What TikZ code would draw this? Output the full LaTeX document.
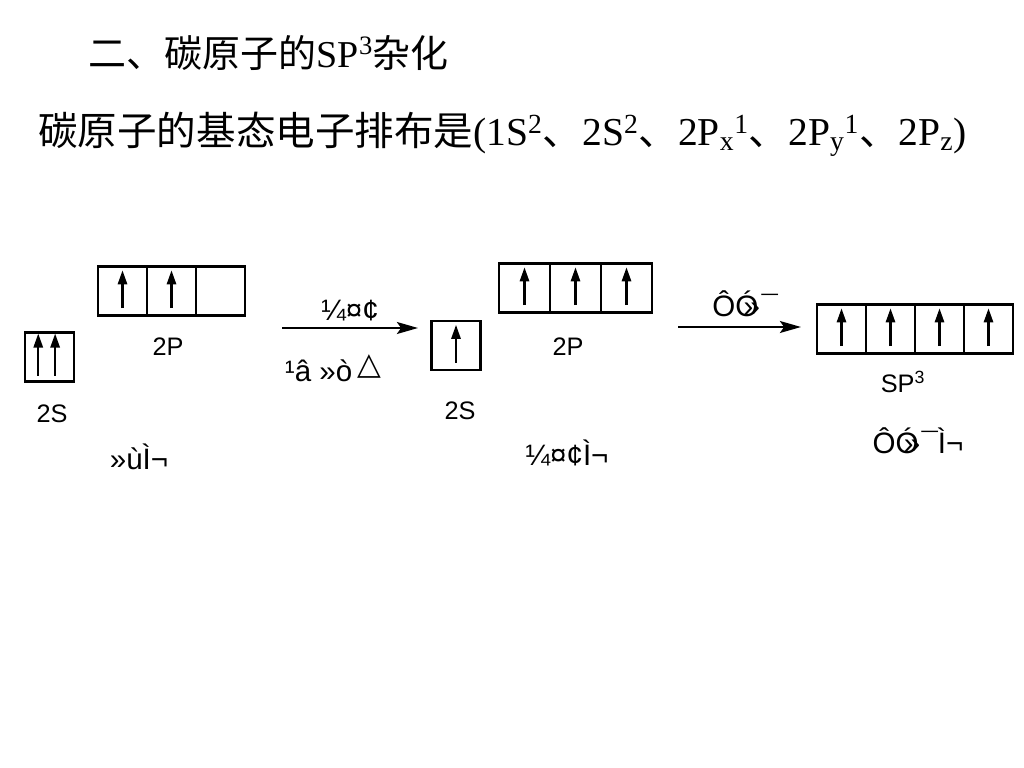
\documentclass[tikz,border=0pt]{standalone}
\usepackage{fontspec}
\setmainfont{Liberation Serif}
\setsansfont{Liberation Sans}
\newfontfamily\cjk{Noto Sans CJK SC}
\newfontfamily\symf{DejaVu Sans}
\usetikzlibrary{arrows.meta}

\tikzset{
  cell/.style={draw,line width=1.6pt,minimum width=1.225cm,minimum height=1.225cm,inner sep=0pt},
  spin/.style={line width=1.7pt,-{Triangle[length=10pt,width=6.5pt]}},
  lbl/.style={font=\sffamily\fontsize{18}{20}\selectfont},
  garb/.style={font=\sffamily\fontsize{21}{24}\selectfont},
  react/.style={line width=1.6pt,-{Stealth[length=15pt,width=8.5pt,inset=3pt]}}
}

\begin{document}
\begin{tikzpicture}[x=0.025cm,y=-0.025cm]
		\useasboundingbox (0,0) rectangle (1024,768);
		\node[anchor=west] (title) at (84,53) {\cjk\fontsize{27}{30}\selectfont 二、碳原子的{\rmfamily SP\textsuperscript{3}}杂化};
		\node[anchor=west,inner sep=0pt] (config) at (38,134) {\resizebox{23.2cm}{!}{\cjk\fontsize{30}{34}\selectfont 碳原子的基态电子排布是{\rmfamily (1S\textsuperscript{2}}、{\rmfamily 2S\textsuperscript{2}}、{\rmfamily 2P\textsubscript{x}\textsuperscript{1}}、{\rmfamily 2P\textsubscript{y}\textsuperscript{1}}、{\rmfamily 2P\textsubscript{z})}}};
		%
		% ground state
		\node[cell] (S1) at (49.5,357) {};
		\node[cell] (P11) at (122.5,291) {};
		\node[cell] (P12) at (171.5,291) {};
		\node[cell] (P13) at (220.5,291) {};
		\node[lbl] (S1l) at (52,414) {2S};
		\node[lbl] (P1l) at (168,347) {2P};
		\node[garb] (gnd) at (139,457) {»ùÌ¬};
		%
		% excited state
		\node[cell] (S2) at (456,345.5) {};
		\node[cell,minimum width=1.275cm] (P21) at (524.5,288) {};
		\node[cell,minimum width=1.275cm] (P22) at (575.5,288) {};
		\node[cell,minimum width=1.275cm] (P23) at (626.5,288) {};
		\node[lbl] (S2l) at (460,411) {2S};
		\node[lbl] (P2l) at (568,347) {2P};
		\node[garb] (exc) at (567,453) {¼¤¢Ì¬};
		%
		% hybrid state
		\foreach \i/\x in {1/841.5,2/890.5,3/939.5,4/988.5}
			\node[cell] (H\i) at (\x,329) {};
		\node[lbl] (Hl) at (903,382) {SP\textsuperscript{3}};
		\node[garb] (hyb) at (918,441) {ÔÓ\kern-0.5em»\kern0.05em¯Ì¬};
		%
		% spins
		\foreach \c in {P11,P12,S2,P21,P22,P23,H1,H2,H3,H4}
			\draw[spin] ([yshift=6pt]\c.south) -- ([yshift=-3.5pt]\c.north);
		\draw[spin] ([xshift=-8pt,yshift=5pt]S1.south) -- ([xshift=-8pt,yshift=-1.5pt]S1.north);
		\draw[spin] ([xshift=4pt,yshift=5pt]S1.south) -- ([xshift=4pt,yshift=-1.5pt]S1.north);
		%
		% reaction arrows
		\coordinate (a1) at (282,328);
		\coordinate (b1) at (418,328);
		\coordinate (a2) at (678,327);
		\coordinate (b2) at (801,327);
		\path[react]
		(a1) edge node[garb,above=1pt]{¼¤¢} (b1)
		(a2) edge node[garb,above=3pt,xshift=4pt]{ÔÓ\kern-0.5em»\kern0.05em¯} (b2);
		\node[garb,anchor=west] (cond) at (280,368) {¹â »ò\,{\symf\fontsize{22}{24}\selectfont\raisebox{5pt}{△}}};
		\end{tikzpicture}
\end{document}
